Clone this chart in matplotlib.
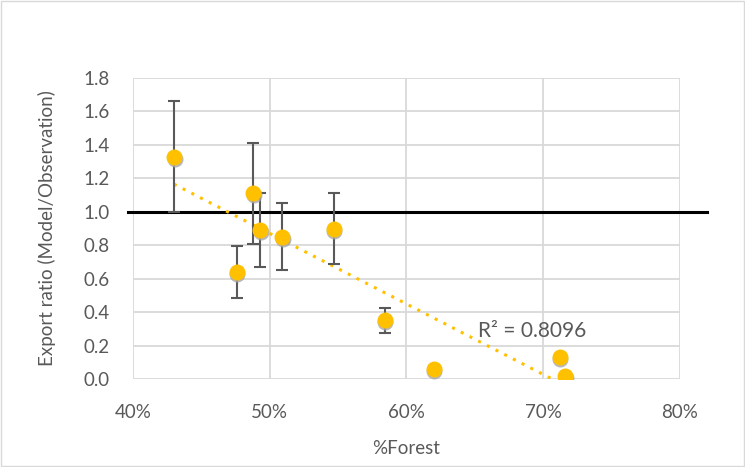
import numpy as np
import matplotlib
matplotlib.use("Agg")
import matplotlib.pyplot as plt
import matplotlib.transforms as mtransforms
from matplotlib.ticker import FuncFormatter, MultipleLocator
from matplotlib.patches import Rectangle

plt.rcParams["font.family"] = ["Lato", "DejaVu Sans"]

# ----------------------------
# Data
# ----------------------------
forest = [0.430, 0.476, 0.488, 0.493, 0.509, 0.547, 0.584, 0.620, 0.712, 0.716]
ratio = [1.33, 0.64, 1.11, 0.89, 0.85, 0.90, 0.35, 0.06, 0.13, 0.02]
err = [0.33, 0.155, 0.30, 0.22, 0.20, 0.21, 0.075, 0.0, 0.0, 0.0]
r2_label = "R² = 0.8096"

GOLD = "#FFC000"
GREY = "#595959"
GRID = "#D9D9D9"

fig = plt.figure(figsize=(7.45, 4.67), dpi=100)
ax = fig.add_axes([0.1785, 0.1884, 0.7342, 0.6446])

# outer chart border
fig.patches.append(Rectangle((0.002, 0.003), 0.996, 0.994, transform=fig.transFigure,
                             fill=False, edgecolor=GRID, linewidth=1))

ax.set_xlim(0.40, 0.80)
ax.set_ylim(0.0, 1.8)
ax.xaxis.set_major_locator(MultipleLocator(0.10))
ax.yaxis.set_major_locator(MultipleLocator(0.2))
ax.xaxis.set_major_formatter(FuncFormatter(lambda v, p: f"{v*100:.0f}%"))
ax.yaxis.set_major_formatter(FuncFormatter(lambda v, p: f"{v:.1f}"))
ax.grid(True, color=GRID, linewidth=1.3)
ax.set_axisbelow(True)
for s in ax.spines.values():
    s.set_visible(False)
ax.tick_params(length=0, labelsize=13.5, labelcolor=GREY)
ax.tick_params(axis="x", pad=18)
ax.tick_params(axis="y", pad=17)

# reference line at 1.0 (runs past the plot area)
ax.plot([0.396, 0.82], [1.0, 1.0], color="black", linewidth=2.2, clip_on=False, zorder=2)

# linear trend line
m, b = np.polyfit(forest, ratio, 1)
x0 = min(forest)
x1 = -b / m
ax.plot([x0, x1], [m * x0 + b, 0], color=GOLD, linestyle=(0, (1, 2.2)),
        linewidth=2.2, zorder=3)

# error bars (only where there is an error)
has_err = [e > 0 for e in err]
ax.errorbar([x for x, h in zip(forest, has_err) if h],
            [y for y, h in zip(ratio, has_err) if h],
            yerr=[e for e, h in zip(err, has_err) if h],
            fmt="none", ecolor=GREY, elinewidth=1.5,
            capsize=4.3, capthick=1.5, zorder=4)

# marker shadow + markers
shadow = mtransforms.offset_copy(ax.transData, fig=fig, x=0.5, y=-2, units="dots")
ax.plot(forest, ratio, "o", color="#A6A6A6", markersize=11.5, markeredgewidth=0,
        transform=shadow, zorder=5, alpha=0.8)
ax.plot(forest, ratio, "o", color=GOLD, markersize=11.5, markeredgewidth=0, zorder=6)

ax.text(0.6525, 0.29, r2_label, fontsize=15, color=GREY, ha="left", va="center", zorder=7)

fig.text(0.5456, 1 - 448 / 467, "%Forest", fontsize=13.5, color=GREY, ha="center", va="center")
fig.text(47 / 745, 1 - 228 / 467, "Export ratio (Model/Observation)", fontsize=13.5,
         color=GREY, ha="center", va="center", rotation=90)

fig.savefig("out.png", dpi=100)
